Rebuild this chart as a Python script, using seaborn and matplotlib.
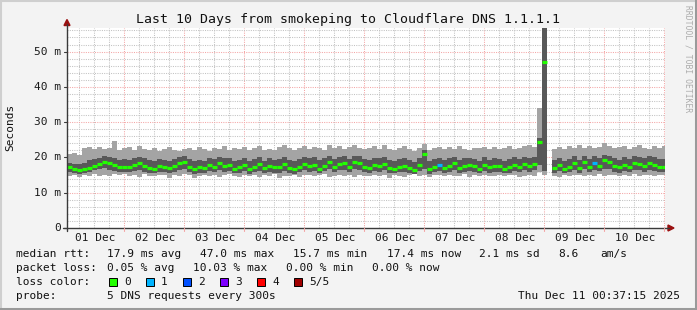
import numpy as np
import pandas as pd
import matplotlib
matplotlib.use("Agg")
import matplotlib.pyplot as plt
import seaborn as sns
from matplotlib.patches import Polygon, Rectangle
from matplotlib.lines import Line2D

nan = float("nan")

# ---------------- data (2-hour bins, starting Dec 1 01:00) ----------------
median_ms = [
    17.2, 16.8, 16.4, 16.6, 17.0, 17.6, 18.2, 18.8, 18.4, 17.9, 17.3, 17.4,
    17.2, 17.8, 18.3, 17.6, 17.1, 16.8, 17.6, 17.3, 17.0, 17.5, 18.3, 18.6,
    17.4, 16.7, 17.2, 16.9, 17.8, 17.3, 18.4, 17.5, 17.9, 16.8, 17.2, 17.9,
    16.7, 17.4, 18.0, 16.9, 17.6, 17.2, 17.2, 18.0, 17.1, 16.6, 17.4, 18.2,
    17.5, 17.9, 16.8, 17.7, 18.6, 17.4, 18.1, 18.3, 17.2, 18.6, 18.4, 17.3,
    16.9, 17.8, 17.6, 18.2, 17.0, 16.8, 17.3, 17.6, 17.0, 16.5, 17.8, 21.0,
    16.6, 17.4, 17.8, 17.1, 17.5, 18.3, 16.9, 17.6, 17.8, 17.5, 16.8, 17.9,
    17.2, 17.6, 17.5, 16.8, 17.2, 17.9, 17.4, 18.2, 17.6, 18.0, 24.4, 47.0,
    nan, 17.0, 17.9, 16.8, 17.3, 18.4, 17.1, 18.6, 17.4, 18.5, 17.7, 19.2,
    18.6, 17.6, 17.2, 17.9, 17.4, 18.5, 18.2, 17.6, 18.4, 17.9, 17.4, 17.4,
]
light_hi = [
    21.0, 21.2, 20.8, 22.6, 22.9, 22.4, 23.0, 22.5, 22.8, 24.6, 22.2, 22.7,
    22.9, 22.1, 23.2, 22.4, 22.0, 22.6, 21.8, 22.3, 22.9, 22.2, 21.7, 22.5,
    22.8, 22.1, 23.0, 22.4, 21.9, 22.7, 22.3, 23.1, 22.0, 22.6, 22.4, 22.9,
    22.2, 22.8, 23.3, 22.0, 22.5, 22.1, 22.9, 23.4, 22.6, 22.2, 22.8, 23.1,
    22.4, 23.0, 22.6, 22.2, 23.5, 22.8, 23.2, 22.5, 22.9, 23.4, 22.7, 22.3,
    22.8, 23.1, 22.5, 23.6, 22.4, 22.0, 22.7, 23.2, 22.3, 21.9, 22.6, 23.8,
    22.1, 22.6, 23.0, 22.4, 22.9, 22.3, 23.1, 22.5, 22.2, 22.8, 22.6, 23.0,
    22.5, 22.9, 22.3, 22.7, 23.2, 22.4, 22.8, 23.3, 23.5, 23.0, 34.0, 60.0,
    nan, 22.5, 22.9, 22.3, 23.1, 22.6, 23.4, 22.8, 23.2, 22.7, 23.0, 24.2,
    23.1, 22.6, 22.9, 23.3, 22.5, 23.0, 23.6, 22.8, 22.4, 23.1, 22.7, 23.2,
]
light_lo = [
    14.6, 14.9, 14.4, 15.0, 14.7, 15.3, 14.8, 15.1, 14.6, 15.2, 14.9, 15.4,
    14.7, 15.0, 14.5, 15.2, 14.8, 14.6, 15.1, 14.9, 14.3, 15.0, 14.7, 15.3,
    14.9, 14.2, 14.8, 15.1, 14.6, 15.0, 14.4, 14.9, 15.2, 14.7, 14.5, 15.0,
    14.8, 15.1, 14.4, 14.9, 14.6, 15.2, 14.3, 14.8, 14.7, 15.0, 14.5, 14.9,
    15.0, 14.6, 14.9, 15.2, 14.5, 14.8, 15.1, 14.7, 14.9, 14.4, 15.0, 14.8,
    14.7, 15.0, 14.6, 14.9, 14.3, 15.1, 14.8, 14.5, 14.9, 15.2, 14.6, 15.0,
    14.5, 14.9, 15.1, 14.7, 15.0, 14.6, 14.8, 15.2, 14.4, 14.9, 14.7, 15.0,
    14.8, 14.6, 15.0, 14.7, 15.1, 14.9, 14.5, 14.8, 15.0, 14.7, 15.8, 14.9,
    nan, 14.8, 14.5, 15.0, 14.7, 15.1, 14.9, 14.6, 15.0, 14.8, 15.2, 14.7,
    14.9, 15.1, 14.7, 15.0, 14.8, 15.2, 14.6, 14.9, 15.1, 14.8, 15.0, 14.9,
]
dark_hi = [
    18.5, 18.2, 18.0, 18.4, 19.2, 19.6, 19.8, 20.3, 20.1, 19.8, 19.4, 19.5,
    19.3, 19.9, 20.2, 19.7, 19.2, 19.0, 19.6, 19.4, 19.1, 19.5, 20.1, 20.4,
    19.6, 19.0, 19.3, 19.1, 19.8, 19.5, 20.2, 19.7, 19.9, 19.0, 19.4, 19.9,
    19.0, 19.6, 20.0, 19.1, 19.7, 19.4, 19.5, 20.0, 19.3, 18.9, 19.6, 20.1,
    19.8, 20.0, 19.2, 19.9, 20.5, 19.6, 20.1, 20.3, 19.5, 20.5, 20.3, 19.5,
    19.2, 19.9, 19.7, 20.2, 19.3, 19.0, 19.5, 19.8, 19.3, 18.8, 19.9, 22.2,
    18.9, 19.6, 19.9, 19.3, 19.7, 20.2, 19.2, 19.8, 19.9, 19.6, 19.1, 20.0,
    19.4, 19.8, 19.6, 19.1, 19.5, 20.0, 19.6, 20.2, 19.8, 20.1, 25.6, 60.0,
    nan, 19.3, 19.9, 19.1, 19.5, 20.3, 19.4, 20.5, 19.6, 20.3, 19.9, 20.8,
    20.5, 19.8, 19.4, 20.0, 19.6, 20.4, 20.2, 19.8, 20.3, 20.0, 19.6, 19.6,
]
dark_lo = [
    16.0, 15.6, 15.4, 15.5, 15.9, 16.3, 16.6, 16.9, 16.5, 16.2, 15.8, 15.9,
    15.8, 16.2, 16.5, 16.0, 15.7, 15.5, 16.0, 15.8, 15.6, 15.9, 16.4, 16.6,
    15.9, 15.4, 15.7, 15.5, 16.1, 15.8, 16.5, 16.0, 16.2, 15.5, 15.7, 16.1,
    15.4, 15.9, 16.2, 15.5, 16.0, 15.7, 15.7, 16.2, 15.6, 15.3, 15.9, 16.4,
    16.0, 16.2, 15.5, 16.1, 16.7, 15.9, 16.3, 16.5, 15.8, 16.7, 16.5, 15.9,
    15.6, 16.1, 15.9, 16.4, 15.7, 15.5, 15.8, 16.0, 15.6, 15.2, 16.1, 16.6,
    15.3, 15.9, 16.1, 15.6, 15.9, 16.4, 15.5, 16.0, 16.1, 15.9, 15.5, 16.2,
    15.7, 16.0, 15.9, 15.5, 15.7, 16.2, 15.9, 16.4, 16.0, 16.3, 17.8, 16.2,
    nan, 15.6, 16.1, 15.5, 15.8, 16.5, 15.7, 16.6, 15.9, 16.5, 16.1, 16.8,
    16.6, 16.0, 15.7, 16.2, 15.9, 16.5, 16.3, 16.0, 16.4, 16.2, 15.9, 15.9,
]
lost_pings = [0] * 120
lost_pings[74] = 1
lost_pings[105] = 1

day_labels = ["01 Dec", "02 Dec", "03 Dec", "04 Dec", "05 Dec",
              "06 Dec", "07 Dec", "08 Dec", "09 Dec", "10 Dec"]
y_ticks = [0, 10, 20, 30, 40, 50]
y_tick_labels = ["0", "10 m", "20 m", "30 m", "40 m", "50 m"]
loss_names = ["0", "1", "2", "3", "4", "5/5"]
loss_colors = ["#22ff00", "#00b4ff", "#0050ff", "#7e00ff", "#ff0000", "#a00000"]

title = "Last 10 Days from smokeping to Cloudflare DNS 1.1.1.1"

# ---------------- figure ----------------
sns.set_style("white")
plt.rcParams["font.family"] = ["DejaVu Sans Mono"]

W, H = 697, 310
fig = plt.figure(figsize=(W / 100, H / 100), dpi=100, facecolor="#f3f3f3")

def fx(x):
    return x / W

def fy(y):
    return 1 - y / H

L, R, T, B = 67, 665, 28.3, 228
ax = fig.add_axes([fx(L), fy(B), (R - L) / W, (B - T) / H])
ax.set_facecolor("white")
ax.set_xlim(1.08, 240.28)
ax.set_ylim(0, 56.6)
for s in ax.spines.values():
    s.set_visible(False)
ax.set_xticks([])
ax.set_yticks([])

n = len(median_ms)
df = pd.DataFrame({
    "hour": [2.0 + 2 * i for i in range(n)],
    "median": median_ms,
    "lhi": light_hi, "llo": light_lo,
    "dhi": dark_hi, "dlo": dark_lo,
    "loss": lost_pings,
})
ok = df.dropna()

ax.bar(ok["hour"], ok["lhi"] - ok["llo"], bottom=ok["llo"], width=2.0,
       color="#a4a4a4", linewidth=0, zorder=2)
ax.bar(ok["hour"], ok["dhi"] - ok["dlo"], bottom=ok["dlo"], width=2.0,
       color="#585858", linewidth=0, zorder=3)

# grid (behind the smoke)
red_c, gray_c = "#f4a6a6", "#c2c2c2"
for h in range(6, 241, 6):
    red = (h % 24 == 0)
    ax.axvline(h, color=red_c if red else gray_c, lw=0.75,
               dashes=(1, 1.2), zorder=1)
for v in range(2, 57, 2):
    red = (v % 10 == 0)
    ax.axhline(v, color=red_c if red else gray_c, lw=0.75,
               dashes=(1, 1.2), zorder=1)

# medians coloured by loss
pal = {i: loss_colors[i] for i in range(6)}
sns.scatterplot(data=ok, x="hour", y="median", hue="loss", palette=pal,
                marker="_", s=16, linewidth=2.3, legend=False, ax=ax, zorder=5)
ax.set_xlabel("")
ax.set_ylabel("")

# axes lines and arrows (figure pixel coords)
axc = "#3a3a3a"
arrow = "#9a1010"
fig.add_artist(Line2D([fx(67), fx(67)], [fy(231), fy(24)], color=axc, lw=1.0))
fig.add_artist(Line2D([fx(63), fx(669)], [fy(228), fy(228)], color=axc, lw=1.0))
fig.add_artist(Polygon([[fx(64), fy(25.5)], [fx(70), fy(25.5)], [fx(67), fy(19.5)]],
                       closed=True, color=arrow))
fig.add_artist(Polygon([[fx(668), fy(225)], [fx(668), fy(231)], [fx(674), fy(228)]],
                       closed=True, color=arrow))

# y ticks
px_per_ms = (B - T) / 56.6
for v, lab in zip(y_ticks, y_tick_labels):
    yp = B - v * px_per_ms
    fig.text(fx(61), fy(yp), lab, ha="right", va="center", fontsize=8,
             color="#1a1a1a")
    fig.add_artist(Line2D([fx(64), fx(67)], [fy(yp), fy(yp)], color=axc, lw=0.8))

# x labels + day ticks
for k, lab in enumerate(day_labels):
    fig.text(fx(95.3 + 60 * k), fy(238), lab, ha="center", va="center",
             fontsize=8, color="#1a1a1a")
for k in range(1, 11):
    xp = 64.3 + 60 * k
    fig.add_artist(Line2D([fx(xp), fx(xp)], [fy(228), fy(231)],
                          color=red_c, lw=0.8))

# title, axis label, watermark
fig.text(fx(348), fy(19), title, ha="center", va="center", fontsize=9.5,
         color="#111111")
fig.text(fx(10.5), fy(127), "Seconds", rotation=90, ha="center", va="center",
         fontsize=8, color="#111111")
fig.text(fx(688), fy(59), "RRDTOOL / TOBI OETIKER", rotation=270, ha="center",
         va="center", fontsize=5.8, color="#acacac")

# legend lines
lc = "#111111"
fs = 8
rows = [
    (254, [(16, "median rtt:"), (107, "17.9 ms avg"), (200, "47.0 ms max"),
           (293, "15.7 ms min"), (386.7, "17.4 ms now"), (479, "2.1 ms sd"),
           (558, "8.6"), (600, "am/s")]),
    (268, [(16, "packet loss:"), (107, "0.05 % avg"), (193, "10.03 % max"),
           (286, "0.00 % min"), (372, "0.00 % now")]),
    (282, [(16, "loss color:")]),
    (296, [(16, "probe:"), (107, "5 DNS requests every 300s")]),
]
for yp, items in rows:
    for xp, t in items:
        fig.text(fx(xp), fy(yp), t, ha="left", va="center", fontsize=fs, color=lc)
fig.text(fx(680), fy(296), "Thu Dec 11 00:37:15 2025", ha="right", va="center",
         fontsize=fs, color=lc)

box_x = [109, 146, 183, 220, 257, 294]
for bx, name, col in zip(box_x, loss_names, loss_colors):
    fig.add_artist(Rectangle((fx(bx), fy(286)), 8 / W, 8 / H, facecolor=col,
                             edgecolor="#000000", lw=0.7))
    fig.text(fx(bx + 15), fy(282), name, ha="left", va="center", fontsize=fs,
             color=lc)

# frame of the image
fig.add_artist(Line2D([0, 1], [fy(0.8), fy(0.8)], color="#cfcfcf", lw=1.5))
fig.add_artist(Line2D([fx(0.8), fx(0.8)], [0, 1], color="#cfcfcf", lw=1.5))
fig.add_artist(Line2D([0, 1], [fy(308.8), fy(308.8)], color="#9a9a9a", lw=2.2))
fig.add_artist(Line2D([fx(695.8), fx(695.8)], [0, 1], color="#9a9a9a", lw=2.2))

fig.savefig("out.png", dpi=100, facecolor=fig.get_facecolor())
